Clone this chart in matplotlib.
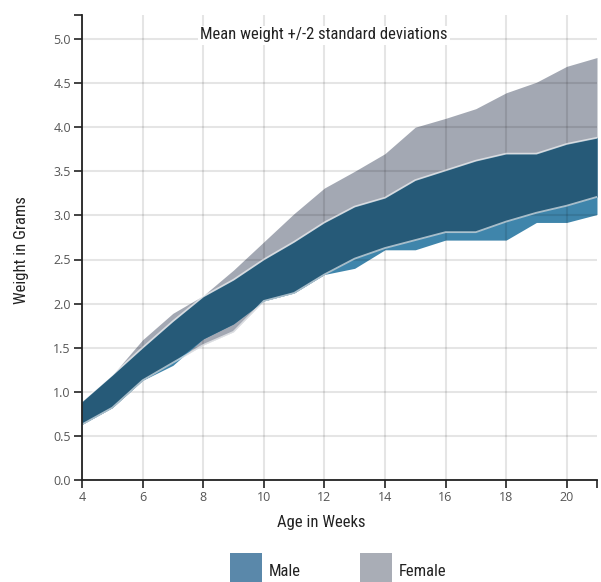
import numpy as np
import matplotlib
matplotlib.use("Agg")
import matplotlib.pyplot as plt
from matplotlib.patches import Rectangle
from matplotlib import font_manager

weeks = np.arange(4, 22)
male_upper = [0.89, 1.19, 1.50, 1.80, 2.08, 2.27, 2.50, 2.70, 2.92, 3.10, 3.20, 3.40, 3.51, 3.62, 3.70, 3.70, 3.81, 3.88]
male_lower = [0.63, 0.82, 1.13, 1.30, 1.60, 1.77, 2.03, 2.12, 2.33, 2.40, 2.61, 2.61, 2.72, 2.72, 2.72, 2.92, 2.92, 3.01]
female_upper = [0.89, 1.19, 1.59, 1.89, 2.09, 2.38, 2.70, 3.02, 3.31, 3.50, 3.70, 4.00, 4.10, 4.21, 4.39, 4.51, 4.69, 4.79]
female_lower = [0.63, 0.82, 1.13, 1.33, 1.53, 1.68, 2.03, 2.12, 2.33, 2.51, 2.63, 2.72, 2.81, 2.81, 2.93, 3.03, 3.11, 3.21]
x_ticks = [4, 6, 8, 10, 12, 14, 16, 18, 20]
y_ticks = [0.0, 0.5, 1.0, 1.5, 2.0, 2.5, 3.0, 3.5, 4.0, 4.5, 5.0]
legend_labels = ["Male", "Female"]
title = "Mean weight +/-2 standard deviations"

names = {f.name for f in font_manager.fontManager.ttflist}
narrow = "DejaVu Sans"
for cand in ["Roboto Condensed", "Archivo Narrow", "PT Sans Narrow", "Liberation Sans Narrow",
             "Open Sans Condensed", "Pragati Narrow", "Liberation Sans"]:
    if cand in names:
        narrow = cand
        break
tickfont = "Open Sans" if "Open Sans" in names else "DejaVu Sans"

W, H = 601, 582
fig = plt.figure(figsize=(W / 100, H / 100), dpi=100)
ax = fig.add_axes([82 / W, 1 - 480 / H, (597 - 82) / W, (480 - 15) / H])

mu = np.array(male_upper); ml = np.array(male_lower)
fu = np.array(female_upper); fl = np.array(female_lower)

c_female = "#a3a8b3"
c_male = "#3f85ab"
c_both = "#265a78"

ax.fill_between(weeks, fl, fu, color=c_female, lw=0, zorder=1)
ax.fill_between(weeks, ml, mu, color=c_male, lw=0, zorder=2)
lo = np.maximum(ml, fl); hi = np.minimum(mu, fu)
ax.fill_between(weeks, lo, hi, where=hi >= lo, interpolate=True, color=c_both, lw=0, zorder=3)
for arr in (mu, fl):
    ax.plot(weeks, arr, color="white", lw=1.3, alpha=0.6, zorder=4)

ax.set_xlim(4, 21)
ax.set_ylim(0, (480 - 15) / 88.2)
ax.set_xticks(x_ticks)
ax.set_yticks(y_ticks)
ax.set_yticklabels([f"{v:.1f}" for v in y_ticks])
ax.set_xticks([21], minor=True)
ax.set_yticks([(480 - 15) / 88.2], minor=True)
ax.grid(True, which="major", color="black", alpha=0.1, lw=1.5, zorder=5)
ax.set_axisbelow(False)
for s in ("top", "right"):
    ax.spines[s].set_visible(False)
for s in ("left", "bottom"):
    ax.spines[s].set_color("#222222")
    ax.spines[s].set_linewidth(1.3)
    ax.spines[s].set_zorder(6)
ax.tick_params(which="both", length=6, width=1.2, color="#222222", labelcolor="#555555",
               labelsize=9, pad=2)
for lab in ax.get_xticklabels() + ax.get_yticklabels():
    lab.set_fontfamily(tickfont)

fig.text(324 / W, 1 - 35 / H, title, fontsize=12, family=narrow, color="#222222",
         ha="center", va="center", zorder=7,
         bbox=dict(facecolor="white", edgecolor="none", pad=1.5))

fig.text(321 / W, 1 - 522 / H, "Age in Weeks", fontsize=12, family=narrow, color="#222222",
         ha="center", va="center")
fig.text(22 / W, 1 - 250 / H, "Weight in Grams", fontsize=12, family=narrow, color="#222222",
         ha="center", va="center", rotation=90)

# legend
swatches = [(230, "#5a88aa"), (360, "#a9adb6")]
for (x0, col), lab in zip(swatches, legend_labels):
    fig.patches.append(Rectangle((x0 / W, 0), 32 / W, (582 - 553) / H, transform=fig.transFigure,
                                 facecolor=col, edgecolor="none"))
    fig.text((x0 + 39) / W, 1 - 571 / H, lab, fontsize=12, family=narrow, color="#222222",
             ha="left", va="center")

fig.savefig("out.png", dpi=100)
